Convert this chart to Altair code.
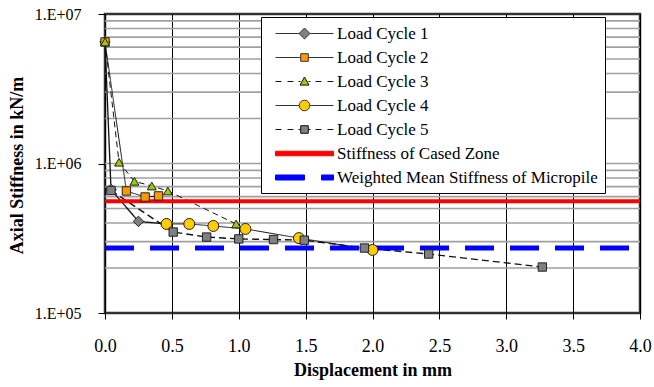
import altair as alt
import pandas as pd

# ---------------- data ----------------
cycle_names = ["Load Cycle 1", "Load Cycle 2", "Load Cycle 3", "Load Cycle 4", "Load Cycle 5"]

c1_x = [0.0, 0.045, 0.25, 0.46]
c1_y = [6.5e6, 6.7e5, 4.1e5, 3.94e5]
c2_x = [0.0, 0.16, 0.30, 0.40]
c2_y = [6.5e6, 6.55e5, 5.97e5, 6.07e5]
c3_x = [0.0, 0.105, 0.22, 0.35, 0.47, 0.98]
c3_y = [6.5e6, 1.02e6, 7.6e5, 7.07e5, 6.55e5, 3.94e5]
c4_x = [0.46, 0.63, 0.81, 1.05, 1.45, 2.0]
c4_y = [3.94e5, 3.94e5, 3.82e5, 3.65e5, 3.17e5, 2.64e5]
c5_x = [0.045, 0.51, 0.76, 1.0, 1.26, 1.49, 1.94, 2.42, 3.27]
c5_y = [6.6e5, 3.48e5, 3.22e5, 3.13e5, 3.10e5, 3.07e5, 2.72e5, 2.48e5, 2.03e5]

ref_x = [0.0, 4.0]
cased_zone_stiffness = 5.6e5
weighted_mean_stiffness = 2.72e5

x_ticks = [0.0, 0.5, 1.0, 1.5, 2.0, 2.5, 3.0, 3.5, 4.0]
y_ticks = [1e5, 1e6, 1e7]
y_grid = [k * 10 ** e for e in (5, 6) for k in range(2, 10)] + [1e6]

legend_labels = cycle_names + ["Stiffness of Cased Zone", "Weighted Mean Stiffness of Micropile"]

# ---------------- styles ----------------
SERIF = "Liberation Serif"
styles = [
    dict(shape="diamond", fill="#808080", size=110, dash=[1, 0], width=1.3),
    dict(shape="square", fill="#FF9900", size=70, dash=[1, 0], width=1.0),
    dict(shape="triangle-up", fill="#99CC00", size=80, dash=[6, 4], width=1.0),
    dict(shape="circle", fill="#FFCC00", size=120, dash=[1, 0], width=1.0),
    dict(shape="square", fill="#808080", size=70, dash=[7, 4], width=1.4),
]

xs = [c1_x, c2_x, c3_x, c4_x, c5_x]
ys = [c1_y, c2_y, c3_y, c4_y, c5_y]

X = alt.X("x:Q", scale=alt.Scale(domain=[0, 4], nice=False, zero=False),
          axis=alt.Axis(values=x_ticks, format=".1f", grid=True, gridColor="black",
                        gridWidth=1, tickSize=6, tickColor="black", domain=False,
                        labelFlush=False, labelOverlap=False,
                        labelFont=SERIF, labelFontSize=18, labelColor="black",
                        labelPadding=18, title="Displacement in mm", titleFont=SERIF,
                        titleFontSize=18, titleFontWeight="bold", titleColor="black",
                        titleY=57, titleBaseline="middle"))
Y = alt.Y("y:Q", scale=alt.Scale(type="log", domain=[1e5, 1e7], nice=False),
          axis=alt.Axis(values=y_ticks, grid=False, tickSize=7, tickColor="black",
                        domain=False, labelFlush=False,
                        labelExpr="'1.E+0' + format(round(log(datum.value)/log(10)), 'd')",
                        labelFont=SERIF, labelFontSize=16, labelColor="black",
                        labelPadding=17, title="Axial Stiffness in kN/m",
                        titleFont=SERIF, titleFontSize=18, titleFontWeight="bold",
                        titleColor="black", titleAngle=270, titleX=-88, titleY=151,
                        titleAlign="center", titleBaseline="middle"))

# horizontal grid (log minor lines)
grid = alt.Chart(pd.DataFrame({"y": y_grid})).mark_rule(
    color="#a0a0a0", strokeWidth=1.6).encode(y=alt.Y("y:Q"))

line_layers = []
point_layers = []
for xv, yv, st, name in zip(xs, ys, styles, cycle_names):
    df = pd.DataFrame({"x": xv, "y": yv, "series": name})
    base = alt.Chart(df)
    line_layers.append(base.mark_line(color="#111", strokeWidth=st["width"],
                                      strokeDash=st["dash"]).encode(x=X, y=Y))
    point_layers.append(base.mark_point(shape=st["shape"], filled=True, fill=st["fill"],
                                        stroke="#222", strokeWidth=1, size=st["size"],
                                        opacity=1).encode(x=X, y=Y))

red = alt.Chart(pd.DataFrame({"x": ref_x, "y": [cased_zone_stiffness] * 2})).mark_line(
    color="#FF0000", strokeWidth=4).encode(x=X, y=Y)
blue = alt.Chart(pd.DataFrame({"x": ref_x, "y": [weighted_mean_stiffness] * 2})).mark_line(
    color="#0000FF", strokeWidth=5, strokeDash=[29, 16]).encode(x=X, y=Y)

# ---------------- legend (custom symbols) ----------------
R = 9.0          # symbol radius unit (px) -> symbolSize = (2R)^2
L0 = 7.0         # left offset of the symbol drawing (px)
C = L0 + 29.0    # marker centre (px from symbol left)


def u(p):
    return f"{(p - R) / R:.3f}"


def seg(a, b):
    return f"M{u(L0 + a)},0H{u(L0 + b)}"


def rect(a, b, h):
    return f"M{u(L0 + a)},{-h / 2 / R:.3f}H{u(L0 + b)}V{h / 2 / R:.3f}H{u(L0 + a)}Z"


def sq(s):
    return f"M{u(C - s)},{-s / R:.3f}H{u(C + s)}V{s / R:.3f}H{u(C - s)}Z"


def diamond(s):
    return f"M{u(C)},{-s / R:.3f}L{u(C + s)},0L{u(C)},{s / R:.3f}L{u(C - s)},0Z"


def tri(s):
    return f"M{u(C)},{-s / R:.3f}L{u(C + s)},{0.8 * s / R:.3f}H{u(C - s)}Z"


def circ(s):
    rr = s / R
    return (f"M{u(C + s)},0A{rr:.3f},{rr:.3f},0,1,1,{u(C - s)},0"
            f"A{rr:.3f},{rr:.3f},0,1,1,{u(C + s)},0Z")


def solid(s):
    return seg(0, 29 - s) + seg(29 + s, 58)


dashed = "".join(seg(a, b) for a, b in [(0, 6), (12, 18), (23, 25), (33, 35), (40, 46), (52, 58)])

legend_paths = [
    solid(5.5) + diamond(5.5),
    solid(3.8) + sq(3.8),
    dashed + tri(4.5),
    solid(5.3) + circ(5.3),
    dashed + sq(3.8),
    rect(0, 58, 4.5),
    rect(0, 29, 5) + rect(46, 58, 5),
]
legend_fills = [s["fill"] for s in styles] + ["#FF0000", "#0000FF"]
legend_strokes = ["#333", "#333", "#111", "#333", "#111", "#FF0000", "#0000FF"]

leg = alt.Legend(orient="none", legendX=156, legendY=3, title=None,
                 fillColor="white", strokeColor="black", padding=7,
                 labelFont=SERIF, labelFontSize=17, labelColor="black", labelLimit=500,
                 labelOffset=50, symbolSize=(2 * R) ** 2, symbolStrokeWidth=1, rowPadding=6,
                 labelExpr="datum.label + '\u00a0\u00a0\u00a0\u00a0\u00a0'")

legend_layer = alt.Chart(pd.DataFrame({"label": legend_labels, "x": [1.0] * 7,
                                       "y": [1e6] * 7})).transform_filter(
    "datum.x > 100").mark_point(filled=True, opacity=1).encode(
    x=X, y=Y,
    shape=alt.Shape("label:N", scale=alt.Scale(domain=legend_labels, range=legend_paths),
                    legend=leg),
    fill=alt.Fill("label:N", scale=alt.Scale(domain=legend_labels, range=legend_fills),
                  legend=leg),
    stroke=alt.Stroke("label:N", scale=alt.Scale(domain=legend_labels, range=legend_strokes),
                      legend=leg),
)

chart = alt.layer(grid, *line_layers, red, blue, *point_layers, legend_layer).properties(
    width=535, height=299,
    autosize=alt.AutoSizeParams(type="none"),
    padding={"left": 105, "top": 14, "right": 14, "bottom": 74},
    background="white",
).configure_view(stroke="#333", strokeWidth=2.5, fill="white")

chart.save("out.html", embed_options={"renderer": "svg", "actions": False})
